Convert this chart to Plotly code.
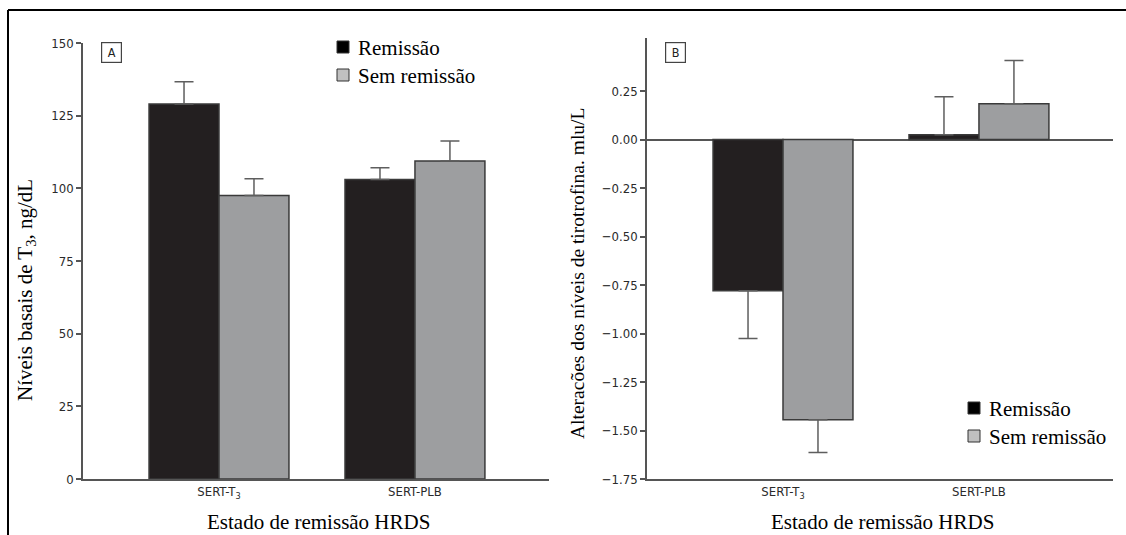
import plotly.graph_objects as go

# ---------------- data ----------------
categories = ["SERT-T3", "SERT-PLB"]
category_labels = ["SERT-T<sub>3</sub>", "SERT-PLB"]
series_names = ["Remissão", "Sem remissão"]

# Panel A: basal T3 levels (ng/dL)
a_remissao = [129.0, 103.0]
a_remissao_err = [7.7, 4.1]
a_sem = [97.5, 109.4]
a_sem_err = [5.8, 6.9]

# Panel B: change in thyrotropin levels (mIU/L)
b_remissao = [-0.78, 0.025]
b_remissao_err_up = [0.0, 0.195]
b_remissao_err_down = [0.246, 0.0]
b_sem = [-1.445, 0.185]
b_sem_err_up = [0.0, 0.222]
b_sem_err_down = [0.168, 0.0]

a_ticks = [0, 25, 50, 75, 100, 125, 150]
b_ticks = [-1.75, -1.5, -1.25, -1.0, -0.75, -0.5, -0.25, 0.0, 0.25]

# ---------------- style ----------------
W, H = 1126, 535
SERIF = "Liberation Serif, Times New Roman, serif"
NARROW = "DejaVu Sans Condensed, Liberation Sans Narrow, Arial Narrow, sans-serif"
BLACK_BAR = "#231f20"
GRAY_BAR = "#9d9ea0"
OUTLINE = "#3a3a3a"
AXIS = "#555555"
ERR = "#5e5e5e"


def px(x):
    return x / W


def py(y):
    return 1 - y / H


fig = go.Figure()


def bar(xa, ya, y, color, up, down):
    return go.Bar(
        x=categories, y=y, xaxis=xa, yaxis=ya,
        marker=dict(color=color, line=dict(color=OUTLINE, width=1.5)),
        error_y=dict(type="data", symmetric=False, array=up, arrayminus=down,
                     color=ERR, thickness=1.5, width=9.5),
        showlegend=False, hoverinfo="skip",
    )


fig.add_trace(bar("x", "y", a_remissao, BLACK_BAR, a_remissao_err, [0, 0]))
fig.add_trace(bar("x", "y", a_sem, GRAY_BAR, a_sem_err, [0, 0]))
fig.add_trace(bar("x2", "y2", b_remissao, BLACK_BAR, b_remissao_err_up, b_remissao_err_down))
fig.add_trace(bar("x2", "y2", b_sem, GRAY_BAR, b_sem_err_up, b_sem_err_down))

tickfont = dict(family=NARROW, size=13, color="#2a2a2a")
xrange = [-0.694, 1.684]

fig.update_layout(
    template="none",
    width=W, height=H, autosize=False,
    margin=dict(l=0, r=0, t=0, b=0, pad=0),
    paper_bgcolor="white", plot_bgcolor="white",
    barmode="group", bargap=0.286, bargroupgap=0,
    xaxis=dict(domain=[px(83), px(549)], anchor="y", type="category",
               range=xrange, tickvals=categories, ticktext=category_labels,
               showline=True, linecolor=AXIS, linewidth=1.5, ticks="",
               showgrid=False, zeroline=False, tickfont=tickfont, automargin=False),
    yaxis=dict(domain=[py(479), py(43)], anchor="x", range=[0, 150],
               tickvals=a_ticks, showline=True, linecolor=AXIS, linewidth=1.5,
               ticks="outside", ticklen=5, tickwidth=1.5, tickcolor=AXIS,
               showgrid=False, zeroline=False, tickfont=tickfont, automargin=False),
    xaxis2=dict(domain=[px(647), px(1113)], anchor="y2", type="category",
                range=xrange, tickvals=categories, ticktext=category_labels,
                showline=True, linecolor=AXIS, linewidth=1.5, ticks="",
                showgrid=False, zeroline=False, tickfont=tickfont, automargin=False),
    yaxis2=dict(domain=[py(479), py(37.7)], anchor="x2", range=[-1.75, 0.525],
                tickvals=b_ticks, tickformat=".2f", showline=True,
                linecolor=AXIS, linewidth=1.5, ticks="outside", ticklen=5,
                tickwidth=1.5, tickcolor=AXIS, showgrid=False,
                zeroline=True, zerolinecolor=AXIS, zerolinewidth=1.5,
                tickfont=tickfont, automargin=False),
)

annotations = []
shapes = []

# outer frame (top and left lines)
shapes.append(dict(type="line", xref="paper", yref="paper",
                   x0=px(8), x1=1.0, y0=py(10), y1=py(10),
                   line=dict(color="black", width=2)))
shapes.append(dict(type="line", xref="paper", yref="paper",
                   x0=px(8), x1=px(8), y0=py(10), y1=0,
                   line=dict(color="black", width=2)))


def label(x, y, text, size, angle=0, **kw):
    d = dict(xref="paper", yref="paper", x=px(x), y=py(y), text=text,
             textangle=angle, showarrow=False, xanchor="center",
             yanchor="middle", font=dict(family=SERIF, size=size, color="black"))
    d.update(kw)
    return d


# axis titles
annotations.append(label(26, 290, "Níveis basais de T<sub>3</sub>, ng/dL", 21, -90))
annotations.append(label(577, 274, "Alteracões dos níveis de tirotrofina. mlu/L", 19.5, -90))
for cx in (318, 882):
    annotations.append(label(cx, 522, "Estado de remissão HRDS", 21))

# panel labels
for lbl, cx in (("A", 111.5), ("B", 675.5)):
    annotations.append(label(cx, 53, lbl, 12.5, width=17, height=17,
                             bordercolor="#444444", borderwidth=1.2, borderpad=1,
                             font=dict(family=NARROW, size=12.5, color="#222222")))

# legends
legend_specs = [
    (337, [47, 75]),
    (968, [408, 436]),
]
fills = ["#000000", "#c0c0c0"]
for lx, rows in legend_specs:
    for name, fill, cy in zip(series_names, fills, rows):
        shapes.append(dict(type="rect", xref="paper", yref="paper",
                           x0=px(lx), x1=px(lx + 12), y0=py(cy + 6), y1=py(cy - 6),
                           fillcolor=fill, line=dict(color="#333333", width=1)))
        annotations.append(label(lx + 19, cy + 1, name, 21, xanchor="left"))

fig.update_layout(annotations=annotations, shapes=shapes)

fig.write_html(
    "out.html",
    config={"displayModeBar": False},
    post_script="document.body.style.margin='0';document.body.style.overflow='hidden';",
)
